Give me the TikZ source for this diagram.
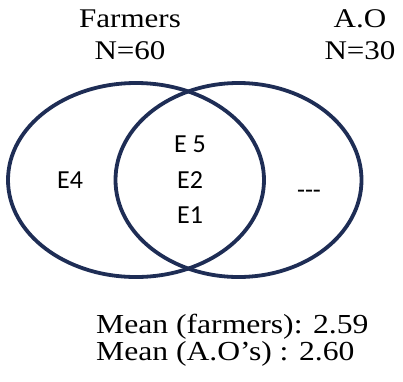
\documentclass[tikz,border=0pt]{standalone}
\usepackage{fontspec}
\setmainfont{Liberation Serif}[FakeStretch=1.15]
\newfontfamily\carl{Carlito}
\definecolor{navy}{HTML}{1E2D55}
\begin{document}
\begin{tikzpicture}[x=1pt,y=-1pt,
  ring/.style={draw=navy,line width=3.8pt},
  head/.style={font=\fontsize{27}{32}\selectfont,align=center,inner sep=0pt},
  elab/.style={font=\carl\fontsize{26}{30}\selectfont,inner sep=0pt,anchor=base},
  meanlab/.style={font=\fontsize{27.5}{26}\selectfont,inner sep=0pt,anchor=base west}]
\useasboundingbox (0,0) rectangle (403,381);
\draw[ring] (136,180) ellipse [x radius=128, y radius=97];
\draw[ring] (238.5,180) ellipse [x radius=123, y radius=97];
\node[head] (farm) at (130,35) {Farmers\\N=60};
\node[head] (ao) at (360,35) {A.O\\N=30};
\node[elab] (e5) at (190,152) {E 5};
\node[elab] (e2) at (190,188) {E2};
\node[elab] (e1) at (190,223) {E1};
\node[elab] (e4) at (70,188) {E4};
\node[elab] (dash) at (309,198) {---};
\node[meanlab] (m1) at (96,333) {Mean (farmers): 2.59};
\node[meanlab] (m2) at (96,360) {Mean (A.O’s) : 2.60};
\end{tikzpicture}
\end{document}
